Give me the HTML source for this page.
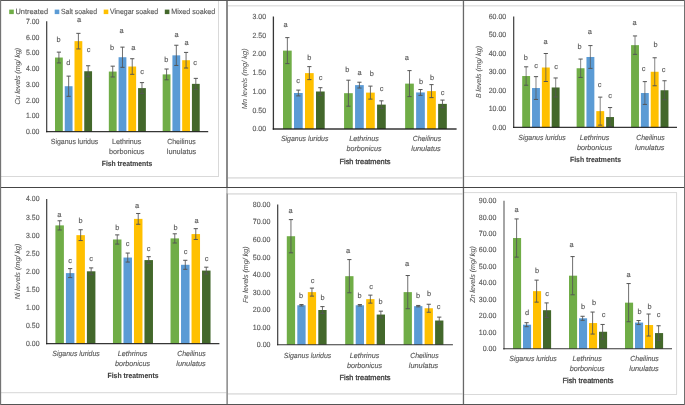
<!DOCTYPE html>
<html lang="en"><head><meta charset="utf-8"><title>Metal levels in fish treatments</title>
<style>html,body{margin:0;padding:0;background:#fff;overflow:hidden}svg{display:block}text{font-family:"Liberation Sans",sans-serif;text-rendering:geometricPrecision}</style>
</head><body>
<svg width="685" height="405" viewBox="0 0 685 405">
<rect x="0" y="0" width="685" height="405" fill="#ffffff"/>
<g id="frames" fill="none">
<line x1="218.50" y1="1.00" x2="218.50" y2="177.00" stroke="#D9D9D9" stroke-width="1.0"/>
<line x1="1.00" y1="176.50" x2="219.00" y2="176.50" stroke="#D9D9D9" stroke-width="1.0"/>
<line x1="228.00" y1="5.80" x2="462.50" y2="5.80" stroke="#e2e2e2" stroke-width="1.6"/>
<line x1="228.00" y1="177.90" x2="462.50" y2="177.90" stroke="#e2e2e2" stroke-width="1.6"/>
<line x1="464.00" y1="5.80" x2="684.00" y2="5.80" stroke="#e2e2e2" stroke-width="1.6"/>
<line x1="464.00" y1="176.50" x2="684.00" y2="176.50" stroke="#D9D9D9" stroke-width="1.0"/>
<line x1="1.00" y1="392.60" x2="226.50" y2="392.60" stroke="#dedede" stroke-width="1.3"/>
<line x1="228.00" y1="193.85" x2="462.50" y2="193.85" stroke="#e2e2e2" stroke-width="1.6"/>
<line x1="228.00" y1="393.90" x2="462.50" y2="393.90" stroke="#e2e2e2" stroke-width="1.6"/>
<line x1="464.00" y1="192.60" x2="677.00" y2="192.60" stroke="#D9D9D9" stroke-width="1.0"/>
<line x1="464.00" y1="394.50" x2="677.00" y2="394.50" stroke="#D9D9D9" stroke-width="1.0"/>
<line x1="676.60" y1="192.60" x2="676.60" y2="394.50" stroke="#D9D9D9" stroke-width="1.0"/>
</g>
<g id="grid">
<rect x="226.00" y="1.00" width="2.00" height="186.50" fill="#8a8a8a"/>
<rect x="226.00" y="188.00" width="2.00" height="6.00" fill="#c8c8c8"/>
<rect x="226.30" y="193.50" width="1.70" height="211.00" fill="#959595"/>
<rect x="462.80" y="0.00" width="1.30" height="405.00" fill="#686868"/>
<rect x="0.00" y="187.00" width="685.00" height="1.00" fill="#454545"/>
<rect x="0.00" y="0.00" width="685.00" height="1.00" fill="#595959"/>
<rect x="0.00" y="404.00" width="685.00" height="1.00" fill="#555555"/>
<rect x="0.00" y="0.00" width="1.15" height="405.00" fill="#747474"/>
<rect x="684.00" y="0.00" width="1.00" height="405.00" fill="#707070"/>
</g>
<g id="legend">
<rect x="9.20" y="9.60" width="4.60" height="4.50" fill="#70AD47"/>
<text x="15.50" y="14.20" font-size="7.5" text-anchor="start" fill="#595959" stroke="#595959" stroke-width="0.14" textLength="32.50" lengthAdjust="spacingAndGlyphs">Untreated</text>
<rect x="54.70" y="9.60" width="4.60" height="4.50" fill="#5B9BD5"/>
<text x="61.00" y="14.20" font-size="7.5" text-anchor="start" fill="#595959" stroke="#595959" stroke-width="0.14" textLength="36.00" lengthAdjust="spacingAndGlyphs">Salt soaked</text>
<rect x="103.70" y="9.60" width="4.60" height="4.50" fill="#FFC000"/>
<text x="110.00" y="14.20" font-size="7.5" text-anchor="start" fill="#595959" stroke="#595959" stroke-width="0.14" textLength="48.20" lengthAdjust="spacingAndGlyphs">Vinegar soaked</text>
<rect x="164.80" y="9.60" width="4.60" height="4.50" fill="#43682B"/>
<text x="171.20" y="14.20" font-size="7.5" text-anchor="start" fill="#595959" stroke="#595959" stroke-width="0.14" textLength="44.00" lengthAdjust="spacingAndGlyphs">Mixed soaked</text>
</g>
<g id="cu">
<rect x="55.00" y="57.54" width="7.80" height="74.06" fill="#70AD47"/>
<rect x="64.75" y="86.22" width="7.80" height="45.38" fill="#5B9BD5"/>
<rect x="74.50" y="41.15" width="7.80" height="90.45" fill="#FFC000"/>
<rect x="84.25" y="71.25" width="7.80" height="60.35" fill="#43682B"/>
<rect x="108.83" y="71.57" width="7.80" height="60.03" fill="#70AD47"/>
<rect x="118.58" y="57.23" width="7.80" height="74.37" fill="#5B9BD5"/>
<rect x="128.33" y="66.52" width="7.80" height="65.08" fill="#FFC000"/>
<rect x="138.08" y="88.11" width="7.80" height="43.49" fill="#43682B"/>
<rect x="162.67" y="74.40" width="7.80" height="57.20" fill="#70AD47"/>
<rect x="172.42" y="55.34" width="7.80" height="76.26" fill="#5B9BD5"/>
<rect x="182.17" y="60.22" width="7.80" height="71.38" fill="#FFC000"/>
<rect x="191.92" y="83.86" width="7.80" height="47.74" fill="#43682B"/>
<line x1="58.90" y1="52.14" x2="58.90" y2="62.94" stroke="#555555" stroke-width="0.85" stroke-opacity="1"/>
<line x1="56.80" y1="52.14" x2="61.00" y2="52.14" stroke="#555555" stroke-width="1.0"/>
<line x1="56.80" y1="62.94" x2="61.00" y2="62.94" stroke="#555555" stroke-width="1.0"/>
<line x1="68.65" y1="76.12" x2="68.65" y2="96.32" stroke="#555555" stroke-width="0.85" stroke-opacity="1"/>
<line x1="66.55" y1="76.12" x2="70.75" y2="76.12" stroke="#555555" stroke-width="1.0"/>
<line x1="66.55" y1="96.32" x2="70.75" y2="96.32" stroke="#555555" stroke-width="1.0"/>
<line x1="78.40" y1="33.35" x2="78.40" y2="48.95" stroke="#555555" stroke-width="0.85" stroke-opacity="1"/>
<line x1="76.30" y1="33.35" x2="80.50" y2="33.35" stroke="#555555" stroke-width="1.0"/>
<line x1="76.30" y1="48.95" x2="80.50" y2="48.95" stroke="#555555" stroke-width="1.0"/>
<line x1="88.15" y1="65.75" x2="88.15" y2="76.75" stroke="#555555" stroke-width="0.85" stroke-opacity="1"/>
<line x1="86.05" y1="65.75" x2="90.25" y2="65.75" stroke="#555555" stroke-width="1.0"/>
<line x1="86.05" y1="76.75" x2="90.25" y2="76.75" stroke="#555555" stroke-width="1.0"/>
<line x1="112.73" y1="66.17" x2="112.73" y2="76.97" stroke="#555555" stroke-width="0.85" stroke-opacity="1"/>
<line x1="110.63" y1="66.17" x2="114.83" y2="66.17" stroke="#555555" stroke-width="1.0"/>
<line x1="110.63" y1="76.97" x2="114.83" y2="76.97" stroke="#555555" stroke-width="1.0"/>
<line x1="122.48" y1="47.13" x2="122.48" y2="67.33" stroke="#555555" stroke-width="0.85" stroke-opacity="1"/>
<line x1="120.38" y1="47.13" x2="124.58" y2="47.13" stroke="#555555" stroke-width="1.0"/>
<line x1="120.38" y1="67.33" x2="124.58" y2="67.33" stroke="#555555" stroke-width="1.0"/>
<line x1="132.23" y1="58.72" x2="132.23" y2="74.32" stroke="#555555" stroke-width="0.85" stroke-opacity="1"/>
<line x1="130.13" y1="58.72" x2="134.33" y2="58.72" stroke="#555555" stroke-width="1.0"/>
<line x1="130.13" y1="74.32" x2="134.33" y2="74.32" stroke="#555555" stroke-width="1.0"/>
<line x1="141.98" y1="82.61" x2="141.98" y2="93.61" stroke="#555555" stroke-width="0.85" stroke-opacity="1"/>
<line x1="139.88" y1="82.61" x2="144.08" y2="82.61" stroke="#555555" stroke-width="1.0"/>
<line x1="139.88" y1="93.61" x2="144.08" y2="93.61" stroke="#555555" stroke-width="1.0"/>
<line x1="166.57" y1="69.00" x2="166.57" y2="79.80" stroke="#555555" stroke-width="0.85" stroke-opacity="1"/>
<line x1="164.47" y1="69.00" x2="168.67" y2="69.00" stroke="#555555" stroke-width="1.0"/>
<line x1="164.47" y1="79.80" x2="168.67" y2="79.80" stroke="#555555" stroke-width="1.0"/>
<line x1="176.32" y1="45.24" x2="176.32" y2="65.44" stroke="#555555" stroke-width="0.85" stroke-opacity="1"/>
<line x1="174.22" y1="45.24" x2="178.42" y2="45.24" stroke="#555555" stroke-width="1.0"/>
<line x1="174.22" y1="65.44" x2="178.42" y2="65.44" stroke="#555555" stroke-width="1.0"/>
<line x1="186.07" y1="52.42" x2="186.07" y2="68.02" stroke="#555555" stroke-width="0.85" stroke-opacity="1"/>
<line x1="183.97" y1="52.42" x2="188.17" y2="52.42" stroke="#555555" stroke-width="1.0"/>
<line x1="183.97" y1="68.02" x2="188.17" y2="68.02" stroke="#555555" stroke-width="1.0"/>
<line x1="195.82" y1="78.36" x2="195.82" y2="89.36" stroke="#555555" stroke-width="0.85" stroke-opacity="1"/>
<line x1="193.72" y1="78.36" x2="197.92" y2="78.36" stroke="#555555" stroke-width="1.0"/>
<line x1="193.72" y1="89.36" x2="197.92" y2="89.36" stroke="#555555" stroke-width="1.0"/>
<line x1="46.70" y1="21.30" x2="46.70" y2="132.17" stroke="#1a1a1a" stroke-width="1.15" stroke-opacity="0.88"/>
<line x1="46.12" y1="131.60" x2="208.20" y2="131.60" stroke="#1a1a1a" stroke-width="1.15" stroke-opacity="0.88"/>
<text x="39.40" y="134.05" font-size="7.5" text-anchor="end" fill="#595959" stroke="#595959" stroke-width="0.14" textLength="13.50" lengthAdjust="spacingAndGlyphs">0.00</text>
<text x="39.40" y="118.29" font-size="7.5" text-anchor="end" fill="#595959" stroke="#595959" stroke-width="0.14" textLength="13.50" lengthAdjust="spacingAndGlyphs">1.00</text>
<text x="39.40" y="102.54" font-size="7.5" text-anchor="end" fill="#595959" stroke="#595959" stroke-width="0.14" textLength="13.50" lengthAdjust="spacingAndGlyphs">2.00</text>
<text x="39.40" y="86.78" font-size="7.5" text-anchor="end" fill="#595959" stroke="#595959" stroke-width="0.14" textLength="13.50" lengthAdjust="spacingAndGlyphs">3.00</text>
<text x="39.40" y="71.02" font-size="7.5" text-anchor="end" fill="#595959" stroke="#595959" stroke-width="0.14" textLength="13.50" lengthAdjust="spacingAndGlyphs">4.00</text>
<text x="39.40" y="55.26" font-size="7.5" text-anchor="end" fill="#595959" stroke="#595959" stroke-width="0.14" textLength="13.50" lengthAdjust="spacingAndGlyphs">5.00</text>
<text x="39.40" y="39.51" font-size="7.5" text-anchor="end" fill="#595959" stroke="#595959" stroke-width="0.14" textLength="13.50" lengthAdjust="spacingAndGlyphs">6.00</text>
<text x="39.40" y="23.75" font-size="7.5" text-anchor="end" fill="#595959" stroke="#595959" stroke-width="0.14" textLength="13.50" lengthAdjust="spacingAndGlyphs">7.00</text>
<text x="20.00" y="76.20" font-size="7.3" text-anchor="middle" fill="#595959" stroke="#595959" stroke-width="0.05" font-style="italic" textLength="56.80" lengthAdjust="spacingAndGlyphs" transform="rotate(-90 20.00 76.20)">Cu levels (mg/ kg)</text>
<text x="58.50" y="41.60" font-size="7.4" text-anchor="middle" fill="#595959" stroke="#595959" stroke-width="0.14">b</text>
<text x="68.20" y="64.60" font-size="7.4" text-anchor="middle" fill="#595959" stroke="#595959" stroke-width="0.14">d</text>
<text x="79.00" y="21.60" font-size="7.4" text-anchor="middle" fill="#595959" stroke="#595959" stroke-width="0.14">a</text>
<text x="88.70" y="52.10" font-size="7.4" text-anchor="middle" fill="#595959" stroke="#595959" stroke-width="0.14">c</text>
<text x="112.00" y="49.60" font-size="7.4" text-anchor="middle" fill="#595959" stroke="#595959" stroke-width="0.14">b</text>
<text x="121.60" y="33.30" font-size="7.4" text-anchor="middle" fill="#595959" stroke="#595959" stroke-width="0.14">a</text>
<text x="133.20" y="49.60" font-size="7.4" text-anchor="middle" fill="#595959" stroke="#595959" stroke-width="0.14">a</text>
<text x="142.00" y="73.60" font-size="7.4" text-anchor="middle" fill="#595959" stroke="#595959" stroke-width="0.14">c</text>
<text x="166.20" y="62.10" font-size="7.4" text-anchor="middle" fill="#595959" stroke="#595959" stroke-width="0.14">b</text>
<text x="176.50" y="36.60" font-size="7.4" text-anchor="middle" fill="#595959" stroke="#595959" stroke-width="0.14">a</text>
<text x="186.50" y="44.80" font-size="7.4" text-anchor="middle" fill="#595959" stroke="#595959" stroke-width="0.14">a</text>
<text x="195.20" y="64.60" font-size="7.4" text-anchor="middle" fill="#595959" stroke="#595959" stroke-width="0.14">c</text>
<text x="74.50" y="143.60" font-size="7.4" text-anchor="middle" fill="#595959" stroke="#595959" stroke-width="0.14" textLength="47.50" lengthAdjust="spacingAndGlyphs">Siganus luridus</text>
<text x="126.70" y="143.60" font-size="7.4" text-anchor="middle" fill="#595959" stroke="#595959" stroke-width="0.14" textLength="29.50" lengthAdjust="spacingAndGlyphs">Lethrinus</text>
<text x="126.70" y="154.30" font-size="7.4" text-anchor="middle" fill="#595959" stroke="#595959" stroke-width="0.14" textLength="35.50" lengthAdjust="spacingAndGlyphs">borbonicus</text>
<text x="181.50" y="143.60" font-size="7.4" text-anchor="middle" fill="#595959" stroke="#595959" stroke-width="0.14" textLength="28.50" lengthAdjust="spacingAndGlyphs">Cheilinus</text>
<text x="181.50" y="154.30" font-size="7.4" text-anchor="middle" fill="#595959" stroke="#595959" stroke-width="0.14" textLength="29.50" lengthAdjust="spacingAndGlyphs">lunulatus</text>
<text x="127.00" y="166.30" font-size="7.4" text-anchor="middle" fill="#404040" stroke="#404040" stroke-width="0.1" font-weight="bold" textLength="50.50" lengthAdjust="spacingAndGlyphs">Fish treatments</text>
</g>
<g id="mn">
<rect x="283.00" y="50.62" width="8.70" height="78.38" fill="#70AD47"/>
<rect x="294.00" y="93.00" width="8.70" height="36.00" fill="#5B9BD5"/>
<rect x="305.00" y="73.12" width="8.70" height="55.88" fill="#FFC000"/>
<rect x="316.00" y="91.50" width="8.70" height="37.50" fill="#43682B"/>
<rect x="344.07" y="93.19" width="8.70" height="35.81" fill="#70AD47"/>
<rect x="355.07" y="85.12" width="8.70" height="43.88" fill="#5B9BD5"/>
<rect x="366.07" y="92.62" width="8.70" height="36.38" fill="#FFC000"/>
<rect x="377.07" y="104.62" width="8.70" height="24.38" fill="#43682B"/>
<rect x="405.13" y="83.62" width="8.70" height="45.38" fill="#70AD47"/>
<rect x="416.13" y="92.44" width="8.70" height="36.56" fill="#5B9BD5"/>
<rect x="427.13" y="91.12" width="8.70" height="37.88" fill="#FFC000"/>
<rect x="438.13" y="103.88" width="8.70" height="25.12" fill="#43682B"/>
<line x1="287.35" y1="37.62" x2="287.35" y2="63.62" stroke="#555555" stroke-width="0.85" stroke-opacity="1"/>
<line x1="285.25" y1="37.62" x2="289.45" y2="37.62" stroke="#555555" stroke-width="1.0"/>
<line x1="285.25" y1="63.62" x2="289.45" y2="63.62" stroke="#555555" stroke-width="1.0"/>
<line x1="298.35" y1="90.10" x2="298.35" y2="95.90" stroke="#555555" stroke-width="0.85" stroke-opacity="1"/>
<line x1="296.25" y1="90.10" x2="300.45" y2="90.10" stroke="#555555" stroke-width="1.0"/>
<line x1="296.25" y1="95.90" x2="300.45" y2="95.90" stroke="#555555" stroke-width="1.0"/>
<line x1="309.35" y1="66.62" x2="309.35" y2="79.62" stroke="#555555" stroke-width="0.85" stroke-opacity="1"/>
<line x1="307.25" y1="66.62" x2="311.45" y2="66.62" stroke="#555555" stroke-width="1.0"/>
<line x1="307.25" y1="79.62" x2="311.45" y2="79.62" stroke="#555555" stroke-width="1.0"/>
<line x1="320.35" y1="87.70" x2="320.35" y2="95.30" stroke="#555555" stroke-width="0.85" stroke-opacity="1"/>
<line x1="318.25" y1="87.70" x2="322.45" y2="87.70" stroke="#555555" stroke-width="1.0"/>
<line x1="318.25" y1="95.30" x2="322.45" y2="95.30" stroke="#555555" stroke-width="1.0"/>
<line x1="348.42" y1="80.19" x2="348.42" y2="106.19" stroke="#555555" stroke-width="0.85" stroke-opacity="1"/>
<line x1="346.32" y1="80.19" x2="350.52" y2="80.19" stroke="#555555" stroke-width="1.0"/>
<line x1="346.32" y1="106.19" x2="350.52" y2="106.19" stroke="#555555" stroke-width="1.0"/>
<line x1="359.42" y1="82.22" x2="359.42" y2="88.03" stroke="#555555" stroke-width="0.85" stroke-opacity="1"/>
<line x1="357.32" y1="82.22" x2="361.52" y2="82.22" stroke="#555555" stroke-width="1.0"/>
<line x1="357.32" y1="88.03" x2="361.52" y2="88.03" stroke="#555555" stroke-width="1.0"/>
<line x1="370.42" y1="86.12" x2="370.42" y2="99.12" stroke="#555555" stroke-width="0.85" stroke-opacity="1"/>
<line x1="368.32" y1="86.12" x2="372.52" y2="86.12" stroke="#555555" stroke-width="1.0"/>
<line x1="368.32" y1="99.12" x2="372.52" y2="99.12" stroke="#555555" stroke-width="1.0"/>
<line x1="381.42" y1="100.83" x2="381.42" y2="108.42" stroke="#555555" stroke-width="0.85" stroke-opacity="1"/>
<line x1="379.32" y1="100.83" x2="383.52" y2="100.83" stroke="#555555" stroke-width="1.0"/>
<line x1="379.32" y1="108.42" x2="383.52" y2="108.42" stroke="#555555" stroke-width="1.0"/>
<line x1="409.48" y1="70.62" x2="409.48" y2="96.62" stroke="#555555" stroke-width="0.85" stroke-opacity="1"/>
<line x1="407.38" y1="70.62" x2="411.58" y2="70.62" stroke="#555555" stroke-width="1.0"/>
<line x1="407.38" y1="96.62" x2="411.58" y2="96.62" stroke="#555555" stroke-width="1.0"/>
<line x1="420.48" y1="89.54" x2="420.48" y2="95.34" stroke="#555555" stroke-width="0.85" stroke-opacity="1"/>
<line x1="418.38" y1="89.54" x2="422.58" y2="89.54" stroke="#555555" stroke-width="1.0"/>
<line x1="418.38" y1="95.34" x2="422.58" y2="95.34" stroke="#555555" stroke-width="1.0"/>
<line x1="431.48" y1="84.62" x2="431.48" y2="97.62" stroke="#555555" stroke-width="0.85" stroke-opacity="1"/>
<line x1="429.38" y1="84.62" x2="433.58" y2="84.62" stroke="#555555" stroke-width="1.0"/>
<line x1="429.38" y1="97.62" x2="433.58" y2="97.62" stroke="#555555" stroke-width="1.0"/>
<line x1="442.48" y1="100.08" x2="442.48" y2="107.67" stroke="#555555" stroke-width="0.85" stroke-opacity="1"/>
<line x1="440.38" y1="100.08" x2="444.58" y2="100.08" stroke="#555555" stroke-width="1.0"/>
<line x1="440.38" y1="107.67" x2="444.58" y2="107.67" stroke="#555555" stroke-width="1.0"/>
<line x1="273.40" y1="16.50" x2="273.40" y2="129.65" stroke="#1a1a1a" stroke-width="1.3" stroke-opacity="0.88"/>
<line x1="272.75" y1="129.00" x2="456.60" y2="129.00" stroke="#1a1a1a" stroke-width="1.3" stroke-opacity="0.88"/>
<text x="266.00" y="131.45" font-size="7.5" text-anchor="end" fill="#595959" stroke="#595959" stroke-width="0.14" textLength="13.50" lengthAdjust="spacingAndGlyphs">0.00</text>
<text x="266.00" y="112.70" font-size="7.5" text-anchor="end" fill="#595959" stroke="#595959" stroke-width="0.14" textLength="13.50" lengthAdjust="spacingAndGlyphs">0.50</text>
<text x="266.00" y="93.95" font-size="7.5" text-anchor="end" fill="#595959" stroke="#595959" stroke-width="0.14" textLength="13.50" lengthAdjust="spacingAndGlyphs">1.00</text>
<text x="266.00" y="75.20" font-size="7.5" text-anchor="end" fill="#595959" stroke="#595959" stroke-width="0.14" textLength="13.50" lengthAdjust="spacingAndGlyphs">1.50</text>
<text x="266.00" y="56.45" font-size="7.5" text-anchor="end" fill="#595959" stroke="#595959" stroke-width="0.14" textLength="13.50" lengthAdjust="spacingAndGlyphs">2.00</text>
<text x="266.00" y="37.70" font-size="7.5" text-anchor="end" fill="#595959" stroke="#595959" stroke-width="0.14" textLength="13.50" lengthAdjust="spacingAndGlyphs">2.50</text>
<text x="266.00" y="18.95" font-size="7.5" text-anchor="end" fill="#595959" stroke="#595959" stroke-width="0.14" textLength="13.50" lengthAdjust="spacingAndGlyphs">3.00</text>
<text x="247.00" y="78.75" font-size="7.3" text-anchor="middle" fill="#595959" stroke="#595959" stroke-width="0.05" font-style="italic" textLength="61.00" lengthAdjust="spacingAndGlyphs" transform="rotate(-90 247.00 78.75)">Mn levels (mg/ kg)</text>
<text x="285.50" y="27.30" font-size="7.4" text-anchor="middle" fill="#595959" stroke="#595959" stroke-width="0.14">a</text>
<text x="298.20" y="82.60" font-size="7.4" text-anchor="middle" fill="#595959" stroke="#595959" stroke-width="0.14">c</text>
<text x="309.20" y="59.80" font-size="7.4" text-anchor="middle" fill="#595959" stroke="#595959" stroke-width="0.14">b</text>
<text x="320.50" y="80.30" font-size="7.4" text-anchor="middle" fill="#595959" stroke="#595959" stroke-width="0.14">c</text>
<text x="347.20" y="72.30" font-size="7.4" text-anchor="middle" fill="#595959" stroke="#595959" stroke-width="0.14">b</text>
<text x="359.50" y="74.60" font-size="7.4" text-anchor="middle" fill="#595959" stroke="#595959" stroke-width="0.14">a</text>
<text x="371.70" y="75.80" font-size="7.4" text-anchor="middle" fill="#595959" stroke="#595959" stroke-width="0.14">b</text>
<text x="381.50" y="90.80" font-size="7.4" text-anchor="middle" fill="#595959" stroke="#595959" stroke-width="0.14">c</text>
<text x="406.70" y="60.30" font-size="7.4" text-anchor="middle" fill="#595959" stroke="#595959" stroke-width="0.14">a</text>
<text x="421.00" y="83.80" font-size="7.4" text-anchor="middle" fill="#595959" stroke="#595959" stroke-width="0.14">b</text>
<text x="432.00" y="79.60" font-size="7.4" text-anchor="middle" fill="#595959" stroke="#595959" stroke-width="0.14">b</text>
<text x="442.50" y="95.10" font-size="7.4" text-anchor="middle" fill="#595959" stroke="#595959" stroke-width="0.14">c</text>
<text x="304.70" y="141.20" font-size="7.4" text-anchor="middle" fill="#595959" stroke="#595959" stroke-width="0.14" font-style="italic" textLength="47.50" lengthAdjust="spacingAndGlyphs">Siganus luridus</text>
<text x="364.00" y="141.20" font-size="7.4" text-anchor="middle" fill="#595959" stroke="#595959" stroke-width="0.14" font-style="italic" textLength="29.50" lengthAdjust="spacingAndGlyphs">Lethrinus</text>
<text x="364.00" y="151.30" font-size="7.4" text-anchor="middle" fill="#595959" stroke="#595959" stroke-width="0.14" font-style="italic" textLength="35.00" lengthAdjust="spacingAndGlyphs">borbonicus</text>
<text x="426.90" y="141.20" font-size="7.4" text-anchor="middle" fill="#595959" stroke="#595959" stroke-width="0.14" font-style="italic" textLength="28.50" lengthAdjust="spacingAndGlyphs">Cheilinus</text>
<text x="426.00" y="151.30" font-size="7.4" text-anchor="middle" fill="#595959" stroke="#595959" stroke-width="0.14" font-style="italic" textLength="29.50" lengthAdjust="spacingAndGlyphs">lunulatus</text>
<text x="365.00" y="163.50" font-size="7.4" text-anchor="middle" fill="#404040" stroke="#404040" stroke-width="0.32" textLength="51.00" lengthAdjust="spacingAndGlyphs">Fish treatments</text>
</g>
<g id="b">
<rect x="522.20" y="76.02" width="7.90" height="51.38" fill="#70AD47"/>
<rect x="532.03" y="88.03" width="7.90" height="39.37" fill="#5B9BD5"/>
<rect x="541.86" y="67.51" width="7.90" height="59.89" fill="#FFC000"/>
<rect x="551.69" y="87.48" width="7.90" height="39.92" fill="#43682B"/>
<rect x="576.63" y="68.25" width="7.90" height="59.15" fill="#70AD47"/>
<rect x="586.46" y="56.98" width="7.90" height="70.42" fill="#5B9BD5"/>
<rect x="596.29" y="111.13" width="7.90" height="16.27" fill="#FFC000"/>
<rect x="606.12" y="117.05" width="7.90" height="10.35" fill="#43682B"/>
<rect x="631.07" y="45.15" width="7.90" height="82.25" fill="#70AD47"/>
<rect x="640.90" y="93.02" width="7.90" height="34.38" fill="#5B9BD5"/>
<rect x="650.73" y="71.77" width="7.90" height="55.63" fill="#FFC000"/>
<rect x="660.56" y="90.25" width="7.90" height="37.15" fill="#43682B"/>
<line x1="526.15" y1="66.82" x2="526.15" y2="85.22" stroke="#555555" stroke-width="1.2" stroke-opacity="0.6"/>
<line x1="524.05" y1="66.82" x2="528.25" y2="66.82" stroke="#555555" stroke-width="1.0"/>
<line x1="524.05" y1="85.22" x2="528.25" y2="85.22" stroke="#555555" stroke-width="1.0"/>
<line x1="535.98" y1="76.63" x2="535.98" y2="99.43" stroke="#555555" stroke-width="1.2" stroke-opacity="0.6"/>
<line x1="533.88" y1="76.63" x2="538.08" y2="76.63" stroke="#555555" stroke-width="1.0"/>
<line x1="533.88" y1="99.43" x2="538.08" y2="99.43" stroke="#555555" stroke-width="1.0"/>
<line x1="545.81" y1="53.51" x2="545.81" y2="81.51" stroke="#555555" stroke-width="1.2" stroke-opacity="0.6"/>
<line x1="543.71" y1="53.51" x2="547.91" y2="53.51" stroke="#555555" stroke-width="1.0"/>
<line x1="543.71" y1="81.51" x2="547.91" y2="81.51" stroke="#555555" stroke-width="1.0"/>
<line x1="555.64" y1="77.98" x2="555.64" y2="96.98" stroke="#555555" stroke-width="1.2" stroke-opacity="0.6"/>
<line x1="553.54" y1="77.98" x2="557.74" y2="77.98" stroke="#555555" stroke-width="1.0"/>
<line x1="553.54" y1="96.98" x2="557.74" y2="96.98" stroke="#555555" stroke-width="1.0"/>
<line x1="580.58" y1="59.05" x2="580.58" y2="77.45" stroke="#555555" stroke-width="1.2" stroke-opacity="0.6"/>
<line x1="578.48" y1="59.05" x2="582.68" y2="59.05" stroke="#555555" stroke-width="1.0"/>
<line x1="578.48" y1="77.45" x2="582.68" y2="77.45" stroke="#555555" stroke-width="1.0"/>
<line x1="590.41" y1="45.58" x2="590.41" y2="68.38" stroke="#555555" stroke-width="1.2" stroke-opacity="0.6"/>
<line x1="588.31" y1="45.58" x2="592.51" y2="45.58" stroke="#555555" stroke-width="1.0"/>
<line x1="588.31" y1="68.38" x2="592.51" y2="68.38" stroke="#555555" stroke-width="1.0"/>
<line x1="600.24" y1="97.13" x2="600.24" y2="125.13" stroke="#555555" stroke-width="1.2" stroke-opacity="0.6"/>
<line x1="598.14" y1="97.13" x2="602.34" y2="97.13" stroke="#555555" stroke-width="1.0"/>
<line x1="598.14" y1="125.13" x2="602.34" y2="125.13" stroke="#555555" stroke-width="1.0"/>
<line x1="610.07" y1="107.55" x2="610.07" y2="126.55" stroke="#555555" stroke-width="1.2" stroke-opacity="0.6"/>
<line x1="607.97" y1="107.55" x2="612.17" y2="107.55" stroke="#555555" stroke-width="1.0"/>
<line x1="607.97" y1="126.55" x2="612.17" y2="126.55" stroke="#555555" stroke-width="1.0"/>
<line x1="635.02" y1="35.95" x2="635.02" y2="54.35" stroke="#555555" stroke-width="1.2" stroke-opacity="0.6"/>
<line x1="632.92" y1="35.95" x2="637.12" y2="35.95" stroke="#555555" stroke-width="1.0"/>
<line x1="632.92" y1="54.35" x2="637.12" y2="54.35" stroke="#555555" stroke-width="1.0"/>
<line x1="644.85" y1="81.62" x2="644.85" y2="104.42" stroke="#555555" stroke-width="1.2" stroke-opacity="0.6"/>
<line x1="642.75" y1="81.62" x2="646.95" y2="81.62" stroke="#555555" stroke-width="1.0"/>
<line x1="642.75" y1="104.42" x2="646.95" y2="104.42" stroke="#555555" stroke-width="1.0"/>
<line x1="654.68" y1="57.77" x2="654.68" y2="85.77" stroke="#555555" stroke-width="1.2" stroke-opacity="0.6"/>
<line x1="652.58" y1="57.77" x2="656.78" y2="57.77" stroke="#555555" stroke-width="1.0"/>
<line x1="652.58" y1="85.77" x2="656.78" y2="85.77" stroke="#555555" stroke-width="1.0"/>
<line x1="664.51" y1="80.75" x2="664.51" y2="99.75" stroke="#555555" stroke-width="1.2" stroke-opacity="0.6"/>
<line x1="662.41" y1="80.75" x2="666.61" y2="80.75" stroke="#555555" stroke-width="1.0"/>
<line x1="662.41" y1="99.75" x2="666.61" y2="99.75" stroke="#555555" stroke-width="1.0"/>
<line x1="513.70" y1="16.50" x2="513.70" y2="127.98" stroke="#1a1a1a" stroke-width="1.15" stroke-opacity="0.88"/>
<line x1="513.12" y1="127.40" x2="677.00" y2="127.40" stroke="#1a1a1a" stroke-width="1.15" stroke-opacity="0.88"/>
<text x="506.20" y="129.85" font-size="7.5" text-anchor="end" fill="#595959" stroke="#595959" stroke-width="0.14" textLength="13.60" lengthAdjust="spacingAndGlyphs">0.00</text>
<text x="506.20" y="111.37" font-size="7.5" text-anchor="end" fill="#595959" stroke="#595959" stroke-width="0.14" textLength="17.50" lengthAdjust="spacingAndGlyphs">10.00</text>
<text x="506.20" y="92.88" font-size="7.5" text-anchor="end" fill="#595959" stroke="#595959" stroke-width="0.14" textLength="17.50" lengthAdjust="spacingAndGlyphs">20.00</text>
<text x="506.20" y="74.40" font-size="7.5" text-anchor="end" fill="#595959" stroke="#595959" stroke-width="0.14" textLength="17.50" lengthAdjust="spacingAndGlyphs">30.00</text>
<text x="506.20" y="55.92" font-size="7.5" text-anchor="end" fill="#595959" stroke="#595959" stroke-width="0.14" textLength="17.50" lengthAdjust="spacingAndGlyphs">40.00</text>
<text x="506.20" y="37.43" font-size="7.5" text-anchor="end" fill="#595959" stroke="#595959" stroke-width="0.14" textLength="17.50" lengthAdjust="spacingAndGlyphs">50.00</text>
<text x="506.20" y="18.95" font-size="7.5" text-anchor="end" fill="#595959" stroke="#595959" stroke-width="0.14" textLength="17.50" lengthAdjust="spacingAndGlyphs">60.00</text>
<text x="481.00" y="72.00" font-size="7.3" text-anchor="middle" fill="#595959" stroke="#595959" stroke-width="0.05" font-style="italic" textLength="52.00" lengthAdjust="spacingAndGlyphs" transform="rotate(-90 481.00 72.00)">B levels (mg/ kg)</text>
<text x="525.70" y="60.30" font-size="7.4" text-anchor="middle" fill="#595959" stroke="#595959" stroke-width="0.14">b</text>
<text x="536.00" y="67.60" font-size="7.4" text-anchor="middle" fill="#595959" stroke="#595959" stroke-width="0.14">c</text>
<text x="545.50" y="43.80" font-size="7.4" text-anchor="middle" fill="#595959" stroke="#595959" stroke-width="0.14">a</text>
<text x="556.20" y="69.10" font-size="7.4" text-anchor="middle" fill="#595959" stroke="#595959" stroke-width="0.14">c</text>
<text x="579.50" y="49.30" font-size="7.4" text-anchor="middle" fill="#595959" stroke="#595959" stroke-width="0.14">b</text>
<text x="589.70" y="33.80" font-size="7.4" text-anchor="middle" fill="#595959" stroke="#595959" stroke-width="0.14">a</text>
<text x="599.70" y="87.10" font-size="7.4" text-anchor="middle" fill="#595959" stroke="#595959" stroke-width="0.14">c</text>
<text x="610.20" y="98.30" font-size="7.4" text-anchor="middle" fill="#595959" stroke="#595959" stroke-width="0.14">c</text>
<text x="634.50" y="24.80" font-size="7.4" text-anchor="middle" fill="#595959" stroke="#595959" stroke-width="0.14">a</text>
<text x="643.50" y="71.30" font-size="7.4" text-anchor="middle" fill="#595959" stroke="#595959" stroke-width="0.14">c</text>
<text x="655.50" y="47.10" font-size="7.4" text-anchor="middle" fill="#595959" stroke="#595959" stroke-width="0.14">b</text>
<text x="663.50" y="71.60" font-size="7.4" text-anchor="middle" fill="#595959" stroke="#595959" stroke-width="0.14">c</text>
<text x="542.00" y="140.10" font-size="7.4" text-anchor="middle" fill="#595959" stroke="#595959" stroke-width="0.14" font-style="italic" textLength="47.50" lengthAdjust="spacingAndGlyphs">Siganus luridus</text>
<text x="594.50" y="140.10" font-size="7.4" text-anchor="middle" fill="#595959" stroke="#595959" stroke-width="0.14" font-style="italic" textLength="29.50" lengthAdjust="spacingAndGlyphs">Lethrinus</text>
<text x="594.50" y="149.80" font-size="7.4" text-anchor="middle" fill="#595959" stroke="#595959" stroke-width="0.14" font-style="italic" textLength="35.00" lengthAdjust="spacingAndGlyphs">borbonicus</text>
<text x="650.50" y="140.10" font-size="7.4" text-anchor="middle" fill="#595959" stroke="#595959" stroke-width="0.14" font-style="italic" textLength="28.50" lengthAdjust="spacingAndGlyphs">Cheilinus</text>
<text x="649.80" y="149.80" font-size="7.4" text-anchor="middle" fill="#595959" stroke="#595959" stroke-width="0.14" font-style="italic" textLength="29.50" lengthAdjust="spacingAndGlyphs">lunulatus</text>
<text x="595.50" y="162.00" font-size="7.4" text-anchor="middle" fill="#404040" stroke="#404040" stroke-width="0.1" font-weight="bold" textLength="51.00" lengthAdjust="spacingAndGlyphs">Fish treatments</text>
</g>
<g id="ni">
<rect x="55.40" y="225.39" width="8.50" height="118.21" fill="#70AD47"/>
<rect x="65.90" y="273.11" width="8.50" height="70.49" fill="#5B9BD5"/>
<rect x="76.40" y="235.15" width="8.50" height="108.45" fill="#FFC000"/>
<rect x="86.90" y="271.30" width="8.50" height="72.30" fill="#43682B"/>
<rect x="112.97" y="239.49" width="8.50" height="104.11" fill="#70AD47"/>
<rect x="123.47" y="257.56" width="8.50" height="86.04" fill="#5B9BD5"/>
<rect x="133.97" y="218.88" width="8.50" height="124.72" fill="#FFC000"/>
<rect x="144.47" y="260.09" width="8.50" height="83.51" fill="#43682B"/>
<rect x="170.53" y="238.40" width="8.50" height="105.20" fill="#70AD47"/>
<rect x="181.03" y="264.79" width="8.50" height="78.81" fill="#5B9BD5"/>
<rect x="191.53" y="234.07" width="8.50" height="109.53" fill="#FFC000"/>
<rect x="202.03" y="270.58" width="8.50" height="73.02" fill="#43682B"/>
<line x1="59.65" y1="220.79" x2="59.65" y2="229.99" stroke="#555555" stroke-width="0.85" stroke-opacity="1"/>
<line x1="57.55" y1="220.79" x2="61.75" y2="220.79" stroke="#555555" stroke-width="1.0"/>
<line x1="57.55" y1="229.99" x2="61.75" y2="229.99" stroke="#555555" stroke-width="1.0"/>
<line x1="70.15" y1="268.61" x2="70.15" y2="277.61" stroke="#555555" stroke-width="0.85" stroke-opacity="1"/>
<line x1="68.05" y1="268.61" x2="72.25" y2="268.61" stroke="#555555" stroke-width="1.0"/>
<line x1="68.05" y1="277.61" x2="72.25" y2="277.61" stroke="#555555" stroke-width="1.0"/>
<line x1="80.65" y1="229.75" x2="80.65" y2="240.55" stroke="#555555" stroke-width="0.85" stroke-opacity="1"/>
<line x1="78.55" y1="229.75" x2="82.75" y2="229.75" stroke="#555555" stroke-width="1.0"/>
<line x1="78.55" y1="240.55" x2="82.75" y2="240.55" stroke="#555555" stroke-width="1.0"/>
<line x1="91.15" y1="267.90" x2="91.15" y2="274.70" stroke="#555555" stroke-width="0.85" stroke-opacity="1"/>
<line x1="89.05" y1="267.90" x2="93.25" y2="267.90" stroke="#555555" stroke-width="1.0"/>
<line x1="89.05" y1="274.70" x2="93.25" y2="274.70" stroke="#555555" stroke-width="1.0"/>
<line x1="117.22" y1="234.89" x2="117.22" y2="244.09" stroke="#555555" stroke-width="0.85" stroke-opacity="1"/>
<line x1="115.12" y1="234.89" x2="119.32" y2="234.89" stroke="#555555" stroke-width="1.0"/>
<line x1="115.12" y1="244.09" x2="119.32" y2="244.09" stroke="#555555" stroke-width="1.0"/>
<line x1="127.72" y1="253.06" x2="127.72" y2="262.06" stroke="#555555" stroke-width="0.85" stroke-opacity="1"/>
<line x1="125.62" y1="253.06" x2="129.82" y2="253.06" stroke="#555555" stroke-width="1.0"/>
<line x1="125.62" y1="262.06" x2="129.82" y2="262.06" stroke="#555555" stroke-width="1.0"/>
<line x1="138.22" y1="213.48" x2="138.22" y2="224.28" stroke="#555555" stroke-width="0.85" stroke-opacity="1"/>
<line x1="136.12" y1="213.48" x2="140.32" y2="213.48" stroke="#555555" stroke-width="1.0"/>
<line x1="136.12" y1="224.28" x2="140.32" y2="224.28" stroke="#555555" stroke-width="1.0"/>
<line x1="148.72" y1="256.69" x2="148.72" y2="263.49" stroke="#555555" stroke-width="0.85" stroke-opacity="1"/>
<line x1="146.62" y1="256.69" x2="150.82" y2="256.69" stroke="#555555" stroke-width="1.0"/>
<line x1="146.62" y1="263.49" x2="150.82" y2="263.49" stroke="#555555" stroke-width="1.0"/>
<line x1="174.78" y1="233.80" x2="174.78" y2="243.00" stroke="#555555" stroke-width="0.85" stroke-opacity="1"/>
<line x1="172.68" y1="233.80" x2="176.88" y2="233.80" stroke="#555555" stroke-width="1.0"/>
<line x1="172.68" y1="243.00" x2="176.88" y2="243.00" stroke="#555555" stroke-width="1.0"/>
<line x1="185.28" y1="260.29" x2="185.28" y2="269.29" stroke="#555555" stroke-width="0.85" stroke-opacity="1"/>
<line x1="183.18" y1="260.29" x2="187.38" y2="260.29" stroke="#555555" stroke-width="1.0"/>
<line x1="183.18" y1="269.29" x2="187.38" y2="269.29" stroke="#555555" stroke-width="1.0"/>
<line x1="195.78" y1="228.67" x2="195.78" y2="239.47" stroke="#555555" stroke-width="0.85" stroke-opacity="1"/>
<line x1="193.68" y1="228.67" x2="197.88" y2="228.67" stroke="#555555" stroke-width="1.0"/>
<line x1="193.68" y1="239.47" x2="197.88" y2="239.47" stroke="#555555" stroke-width="1.0"/>
<line x1="206.28" y1="267.18" x2="206.28" y2="273.98" stroke="#555555" stroke-width="0.85" stroke-opacity="1"/>
<line x1="204.18" y1="267.18" x2="208.38" y2="267.18" stroke="#555555" stroke-width="1.0"/>
<line x1="204.18" y1="273.98" x2="208.38" y2="273.98" stroke="#555555" stroke-width="1.0"/>
<line x1="46.70" y1="199.00" x2="46.70" y2="344.18" stroke="#1a1a1a" stroke-width="1.15" stroke-opacity="0.88"/>
<line x1="46.12" y1="343.60" x2="219.40" y2="343.60" stroke="#1a1a1a" stroke-width="1.15" stroke-opacity="0.88"/>
<text x="39.50" y="346.05" font-size="7.5" text-anchor="end" fill="#595959" stroke="#595959" stroke-width="0.14" textLength="13.50" lengthAdjust="spacingAndGlyphs">0.00</text>
<text x="39.50" y="327.98" font-size="7.5" text-anchor="end" fill="#595959" stroke="#595959" stroke-width="0.14" textLength="13.50" lengthAdjust="spacingAndGlyphs">0.50</text>
<text x="39.50" y="309.90" font-size="7.5" text-anchor="end" fill="#595959" stroke="#595959" stroke-width="0.14" textLength="13.50" lengthAdjust="spacingAndGlyphs">1.00</text>
<text x="39.50" y="291.82" font-size="7.5" text-anchor="end" fill="#595959" stroke="#595959" stroke-width="0.14" textLength="13.50" lengthAdjust="spacingAndGlyphs">1.50</text>
<text x="39.50" y="273.75" font-size="7.5" text-anchor="end" fill="#595959" stroke="#595959" stroke-width="0.14" textLength="13.50" lengthAdjust="spacingAndGlyphs">2.00</text>
<text x="39.50" y="255.68" font-size="7.5" text-anchor="end" fill="#595959" stroke="#595959" stroke-width="0.14" textLength="13.50" lengthAdjust="spacingAndGlyphs">2.50</text>
<text x="39.50" y="237.60" font-size="7.5" text-anchor="end" fill="#595959" stroke="#595959" stroke-width="0.14" textLength="13.50" lengthAdjust="spacingAndGlyphs">3.00</text>
<text x="39.50" y="219.52" font-size="7.5" text-anchor="end" fill="#595959" stroke="#595959" stroke-width="0.14" textLength="13.50" lengthAdjust="spacingAndGlyphs">3.50</text>
<text x="39.50" y="201.45" font-size="7.5" text-anchor="end" fill="#595959" stroke="#595959" stroke-width="0.14" textLength="13.50" lengthAdjust="spacingAndGlyphs">4.00</text>
<text x="19.80" y="271.50" font-size="7.3" text-anchor="middle" fill="#595959" stroke="#595959" stroke-width="0.05" font-style="italic" textLength="56.00" lengthAdjust="spacingAndGlyphs" transform="rotate(-90 19.80 271.50)">Ni levels (mg/ kg)</text>
<text x="59.20" y="217.10" font-size="7.4" text-anchor="middle" fill="#595959" stroke="#595959" stroke-width="0.14">a</text>
<text x="70.20" y="263.30" font-size="7.4" text-anchor="middle" fill="#595959" stroke="#595959" stroke-width="0.14">c</text>
<text x="80.50" y="223.30" font-size="7.4" text-anchor="middle" fill="#595959" stroke="#595959" stroke-width="0.14">b</text>
<text x="91.20" y="260.80" font-size="7.4" text-anchor="middle" fill="#595959" stroke="#595959" stroke-width="0.14">c</text>
<text x="117.20" y="229.80" font-size="7.4" text-anchor="middle" fill="#595959" stroke="#595959" stroke-width="0.14">b</text>
<text x="127.70" y="246.30" font-size="7.4" text-anchor="middle" fill="#595959" stroke="#595959" stroke-width="0.14">c</text>
<text x="137.00" y="207.80" font-size="7.4" text-anchor="middle" fill="#595959" stroke="#595959" stroke-width="0.14">a</text>
<text x="148.50" y="251.30" font-size="7.4" text-anchor="middle" fill="#595959" stroke="#595959" stroke-width="0.14">c</text>
<text x="175.50" y="230.30" font-size="7.4" text-anchor="middle" fill="#595959" stroke="#595959" stroke-width="0.14">b</text>
<text x="185.70" y="254.30" font-size="7.4" text-anchor="middle" fill="#595959" stroke="#595959" stroke-width="0.14">c</text>
<text x="196.50" y="223.30" font-size="7.4" text-anchor="middle" fill="#595959" stroke="#595959" stroke-width="0.14">a</text>
<text x="206.50" y="260.80" font-size="7.4" text-anchor="middle" fill="#595959" stroke="#595959" stroke-width="0.14">c</text>
<text x="76.00" y="355.60" font-size="7.4" text-anchor="middle" fill="#595959" stroke="#595959" stroke-width="0.14" font-style="italic" textLength="47.50" lengthAdjust="spacingAndGlyphs">Siganus luridus</text>
<text x="132.50" y="355.60" font-size="7.4" text-anchor="middle" fill="#595959" stroke="#595959" stroke-width="0.14" font-style="italic" textLength="29.50" lengthAdjust="spacingAndGlyphs">Lethrinus</text>
<text x="132.50" y="366.30" font-size="7.4" text-anchor="middle" fill="#595959" stroke="#595959" stroke-width="0.14" font-style="italic" textLength="35.00" lengthAdjust="spacingAndGlyphs">borbonicus</text>
<text x="191.50" y="355.60" font-size="7.4" text-anchor="middle" fill="#595959" stroke="#595959" stroke-width="0.14" font-style="italic" textLength="28.50" lengthAdjust="spacingAndGlyphs">Cheilinus</text>
<text x="191.00" y="366.30" font-size="7.4" text-anchor="middle" fill="#595959" stroke="#595959" stroke-width="0.14" font-style="italic" textLength="29.50" lengthAdjust="spacingAndGlyphs">lunulatus</text>
<text x="133.00" y="377.80" font-size="7.4" text-anchor="middle" fill="#404040" stroke="#404040" stroke-width="0.1" font-weight="bold" textLength="51.00" lengthAdjust="spacingAndGlyphs">Fish treatments</text>
</g>
<g id="fe">
<rect x="286.80" y="236.22" width="8.30" height="108.48" fill="#70AD47"/>
<rect x="297.30" y="305.27" width="8.30" height="39.43" fill="#5B9BD5"/>
<rect x="307.80" y="292.12" width="8.30" height="52.57" fill="#FFC000"/>
<rect x="318.30" y="310.00" width="8.30" height="34.70" fill="#43682B"/>
<rect x="345.20" y="276.18" width="8.30" height="68.52" fill="#70AD47"/>
<rect x="355.70" y="305.27" width="8.30" height="39.43" fill="#5B9BD5"/>
<rect x="366.20" y="299.13" width="8.30" height="45.56" fill="#FFC000"/>
<rect x="376.70" y="314.56" width="8.30" height="30.14" fill="#43682B"/>
<rect x="403.60" y="292.12" width="8.30" height="52.57" fill="#70AD47"/>
<rect x="414.10" y="306.14" width="8.30" height="38.56" fill="#5B9BD5"/>
<rect x="424.60" y="308.25" width="8.30" height="36.45" fill="#FFC000"/>
<rect x="435.10" y="320.52" width="8.30" height="24.18" fill="#43682B"/>
<line x1="290.95" y1="219.62" x2="290.95" y2="252.82" stroke="#555555" stroke-width="0.85" stroke-opacity="1"/>
<line x1="288.85" y1="219.62" x2="293.05" y2="219.62" stroke="#555555" stroke-width="1.0"/>
<line x1="288.85" y1="252.82" x2="293.05" y2="252.82" stroke="#555555" stroke-width="1.0"/>
<line x1="301.45" y1="304.57" x2="301.45" y2="305.97" stroke="#555555" stroke-width="0.85" stroke-opacity="1"/>
<line x1="299.35" y1="304.57" x2="303.55" y2="304.57" stroke="#555555" stroke-width="1.0"/>
<line x1="299.35" y1="305.97" x2="303.55" y2="305.97" stroke="#555555" stroke-width="1.0"/>
<line x1="311.95" y1="288.12" x2="311.95" y2="296.12" stroke="#555555" stroke-width="0.85" stroke-opacity="1"/>
<line x1="309.85" y1="288.12" x2="314.05" y2="288.12" stroke="#555555" stroke-width="1.0"/>
<line x1="309.85" y1="296.12" x2="314.05" y2="296.12" stroke="#555555" stroke-width="1.0"/>
<line x1="322.45" y1="306.60" x2="322.45" y2="313.40" stroke="#555555" stroke-width="0.85" stroke-opacity="1"/>
<line x1="320.35" y1="306.60" x2="324.55" y2="306.60" stroke="#555555" stroke-width="1.0"/>
<line x1="320.35" y1="313.40" x2="324.55" y2="313.40" stroke="#555555" stroke-width="1.0"/>
<line x1="349.35" y1="259.58" x2="349.35" y2="292.78" stroke="#555555" stroke-width="0.85" stroke-opacity="1"/>
<line x1="347.25" y1="259.58" x2="351.45" y2="259.58" stroke="#555555" stroke-width="1.0"/>
<line x1="347.25" y1="292.78" x2="351.45" y2="292.78" stroke="#555555" stroke-width="1.0"/>
<line x1="359.85" y1="304.57" x2="359.85" y2="305.97" stroke="#555555" stroke-width="0.85" stroke-opacity="1"/>
<line x1="357.75" y1="304.57" x2="361.95" y2="304.57" stroke="#555555" stroke-width="1.0"/>
<line x1="357.75" y1="305.97" x2="361.95" y2="305.97" stroke="#555555" stroke-width="1.0"/>
<line x1="370.35" y1="295.13" x2="370.35" y2="303.13" stroke="#555555" stroke-width="0.85" stroke-opacity="1"/>
<line x1="368.25" y1="295.13" x2="372.45" y2="295.13" stroke="#555555" stroke-width="1.0"/>
<line x1="368.25" y1="303.13" x2="372.45" y2="303.13" stroke="#555555" stroke-width="1.0"/>
<line x1="380.85" y1="311.16" x2="380.85" y2="317.96" stroke="#555555" stroke-width="0.85" stroke-opacity="1"/>
<line x1="378.75" y1="311.16" x2="382.95" y2="311.16" stroke="#555555" stroke-width="1.0"/>
<line x1="378.75" y1="317.96" x2="382.95" y2="317.96" stroke="#555555" stroke-width="1.0"/>
<line x1="407.75" y1="275.52" x2="407.75" y2="308.73" stroke="#555555" stroke-width="0.85" stroke-opacity="1"/>
<line x1="405.65" y1="275.52" x2="409.85" y2="275.52" stroke="#555555" stroke-width="1.0"/>
<line x1="405.65" y1="308.73" x2="409.85" y2="308.73" stroke="#555555" stroke-width="1.0"/>
<line x1="418.25" y1="305.44" x2="418.25" y2="306.84" stroke="#555555" stroke-width="0.85" stroke-opacity="1"/>
<line x1="416.15" y1="305.44" x2="420.35" y2="305.44" stroke="#555555" stroke-width="1.0"/>
<line x1="416.15" y1="306.84" x2="420.35" y2="306.84" stroke="#555555" stroke-width="1.0"/>
<line x1="428.75" y1="304.25" x2="428.75" y2="312.25" stroke="#555555" stroke-width="0.85" stroke-opacity="1"/>
<line x1="426.65" y1="304.25" x2="430.85" y2="304.25" stroke="#555555" stroke-width="1.0"/>
<line x1="426.65" y1="312.25" x2="430.85" y2="312.25" stroke="#555555" stroke-width="1.0"/>
<line x1="439.25" y1="317.12" x2="439.25" y2="323.92" stroke="#555555" stroke-width="0.85" stroke-opacity="1"/>
<line x1="437.15" y1="317.12" x2="441.35" y2="317.12" stroke="#555555" stroke-width="1.0"/>
<line x1="437.15" y1="323.92" x2="441.35" y2="323.92" stroke="#555555" stroke-width="1.0"/>
<line x1="277.70" y1="204.50" x2="277.70" y2="345.27" stroke="#1a1a1a" stroke-width="1.15" stroke-opacity="0.88"/>
<line x1="277.12" y1="344.70" x2="452.90" y2="344.70" stroke="#1a1a1a" stroke-width="1.15" stroke-opacity="0.88"/>
<text x="270.50" y="347.15" font-size="7.5" text-anchor="end" fill="#595959" stroke="#595959" stroke-width="0.14" textLength="13.70" lengthAdjust="spacingAndGlyphs">0.00</text>
<text x="270.50" y="329.62" font-size="7.5" text-anchor="end" fill="#595959" stroke="#595959" stroke-width="0.14" textLength="17.70" lengthAdjust="spacingAndGlyphs">10.00</text>
<text x="270.50" y="312.10" font-size="7.5" text-anchor="end" fill="#595959" stroke="#595959" stroke-width="0.14" textLength="17.70" lengthAdjust="spacingAndGlyphs">20.00</text>
<text x="270.50" y="294.57" font-size="7.5" text-anchor="end" fill="#595959" stroke="#595959" stroke-width="0.14" textLength="17.70" lengthAdjust="spacingAndGlyphs">30.00</text>
<text x="270.50" y="277.05" font-size="7.5" text-anchor="end" fill="#595959" stroke="#595959" stroke-width="0.14" textLength="17.70" lengthAdjust="spacingAndGlyphs">40.00</text>
<text x="270.50" y="259.52" font-size="7.5" text-anchor="end" fill="#595959" stroke="#595959" stroke-width="0.14" textLength="17.70" lengthAdjust="spacingAndGlyphs">50.00</text>
<text x="270.50" y="242.00" font-size="7.5" text-anchor="end" fill="#595959" stroke="#595959" stroke-width="0.14" textLength="17.70" lengthAdjust="spacingAndGlyphs">60.00</text>
<text x="270.50" y="224.47" font-size="7.5" text-anchor="end" fill="#595959" stroke="#595959" stroke-width="0.14" textLength="17.70" lengthAdjust="spacingAndGlyphs">70.00</text>
<text x="270.50" y="206.95" font-size="7.5" text-anchor="end" fill="#595959" stroke="#595959" stroke-width="0.14" textLength="17.70" lengthAdjust="spacingAndGlyphs">80.00</text>
<text x="248.00" y="274.70" font-size="7.3" text-anchor="middle" fill="#595959" stroke="#595959" stroke-width="0.05" font-style="italic" textLength="56.60" lengthAdjust="spacingAndGlyphs" transform="rotate(-90 248.00 274.70)">Fe levels (mg/ kg)</text>
<text x="290.50" y="212.60" font-size="7.4" text-anchor="middle" fill="#595959" stroke="#595959" stroke-width="0.14">a</text>
<text x="301.00" y="298.10" font-size="7.4" text-anchor="middle" fill="#595959" stroke="#595959" stroke-width="0.14">b</text>
<text x="312.50" y="283.10" font-size="7.4" text-anchor="middle" fill="#595959" stroke="#595959" stroke-width="0.14">c</text>
<text x="322.50" y="300.10" font-size="7.4" text-anchor="middle" fill="#595959" stroke="#595959" stroke-width="0.14">b</text>
<text x="348.00" y="252.60" font-size="7.4" text-anchor="middle" fill="#595959" stroke="#595959" stroke-width="0.14">a</text>
<text x="359.50" y="298.10" font-size="7.4" text-anchor="middle" fill="#595959" stroke="#595959" stroke-width="0.14">b</text>
<text x="371.00" y="289.10" font-size="7.4" text-anchor="middle" fill="#595959" stroke="#595959" stroke-width="0.14">c</text>
<text x="380.50" y="304.10" font-size="7.4" text-anchor="middle" fill="#595959" stroke="#595959" stroke-width="0.14">b</text>
<text x="407.00" y="266.10" font-size="7.4" text-anchor="middle" fill="#595959" stroke="#595959" stroke-width="0.14">a</text>
<text x="418.00" y="298.10" font-size="7.4" text-anchor="middle" fill="#595959" stroke="#595959" stroke-width="0.14">b</text>
<text x="429.00" y="296.10" font-size="7.4" text-anchor="middle" fill="#595959" stroke="#595959" stroke-width="0.14">b</text>
<text x="438.50" y="309.10" font-size="7.4" text-anchor="middle" fill="#595959" stroke="#595959" stroke-width="0.14">c</text>
<text x="307.50" y="357.60" font-size="7.4" text-anchor="middle" fill="#595959" stroke="#595959" stroke-width="0.14" font-style="italic" textLength="47.50" lengthAdjust="spacingAndGlyphs">Siganus luridus</text>
<text x="364.50" y="357.60" font-size="7.4" text-anchor="middle" fill="#595959" stroke="#595959" stroke-width="0.14" font-style="italic" textLength="29.50" lengthAdjust="spacingAndGlyphs">Lethrinus</text>
<text x="364.50" y="368.30" font-size="7.4" text-anchor="middle" fill="#595959" stroke="#595959" stroke-width="0.14" font-style="italic" textLength="35.00" lengthAdjust="spacingAndGlyphs">borbonicus</text>
<text x="424.40" y="357.60" font-size="7.4" text-anchor="middle" fill="#595959" stroke="#595959" stroke-width="0.14" font-style="italic" textLength="28.50" lengthAdjust="spacingAndGlyphs">Cheilinus</text>
<text x="423.50" y="368.30" font-size="7.4" text-anchor="middle" fill="#595959" stroke="#595959" stroke-width="0.14" font-style="italic" textLength="29.50" lengthAdjust="spacingAndGlyphs">lunulatus</text>
<text x="365.00" y="380.30" font-size="7.4" text-anchor="middle" fill="#404040" stroke="#404040" stroke-width="0.32" textLength="51.00" lengthAdjust="spacingAndGlyphs">Fish treatments</text>
</g>
<g id="zn">
<rect x="513.00" y="238.03" width="8.10" height="110.67" fill="#70AD47"/>
<rect x="523.00" y="324.69" width="8.10" height="24.01" fill="#5B9BD5"/>
<rect x="533.00" y="291.14" width="8.10" height="57.56" fill="#FFC000"/>
<rect x="543.00" y="310.22" width="8.10" height="38.48" fill="#43682B"/>
<rect x="569.00" y="275.69" width="8.10" height="73.01" fill="#70AD47"/>
<rect x="579.00" y="318.28" width="8.10" height="30.42" fill="#5B9BD5"/>
<rect x="589.00" y="323.05" width="8.10" height="25.65" fill="#FFC000"/>
<rect x="599.00" y="331.76" width="8.10" height="16.94" fill="#43682B"/>
<rect x="625.00" y="302.66" width="8.10" height="46.04" fill="#70AD47"/>
<rect x="635.00" y="322.55" width="8.10" height="26.15" fill="#5B9BD5"/>
<rect x="645.00" y="325.02" width="8.10" height="23.68" fill="#FFC000"/>
<rect x="655.00" y="333.08" width="8.10" height="15.62" fill="#43682B"/>
<line x1="516.60" y1="218.93" x2="516.60" y2="257.13" stroke="#555555" stroke-width="0.85" stroke-opacity="1"/>
<line x1="514.50" y1="218.93" x2="518.70" y2="218.93" stroke="#555555" stroke-width="1.0"/>
<line x1="514.50" y1="257.13" x2="518.70" y2="257.13" stroke="#555555" stroke-width="1.0"/>
<line x1="526.60" y1="322.69" x2="526.60" y2="326.69" stroke="#555555" stroke-width="0.85" stroke-opacity="1"/>
<line x1="524.50" y1="322.69" x2="528.70" y2="322.69" stroke="#555555" stroke-width="1.0"/>
<line x1="524.50" y1="326.69" x2="528.70" y2="326.69" stroke="#555555" stroke-width="1.0"/>
<line x1="536.60" y1="280.14" x2="536.60" y2="302.14" stroke="#555555" stroke-width="0.85" stroke-opacity="1"/>
<line x1="534.50" y1="280.14" x2="538.70" y2="280.14" stroke="#555555" stroke-width="1.0"/>
<line x1="534.50" y1="302.14" x2="538.70" y2="302.14" stroke="#555555" stroke-width="1.0"/>
<line x1="546.60" y1="302.92" x2="546.60" y2="317.52" stroke="#555555" stroke-width="0.85" stroke-opacity="1"/>
<line x1="544.50" y1="302.92" x2="548.70" y2="302.92" stroke="#555555" stroke-width="1.0"/>
<line x1="544.50" y1="317.52" x2="548.70" y2="317.52" stroke="#555555" stroke-width="1.0"/>
<line x1="572.60" y1="256.59" x2="572.60" y2="294.79" stroke="#555555" stroke-width="0.85" stroke-opacity="1"/>
<line x1="570.50" y1="256.59" x2="574.70" y2="256.59" stroke="#555555" stroke-width="1.0"/>
<line x1="570.50" y1="294.79" x2="574.70" y2="294.79" stroke="#555555" stroke-width="1.0"/>
<line x1="582.60" y1="316.28" x2="582.60" y2="320.28" stroke="#555555" stroke-width="0.85" stroke-opacity="1"/>
<line x1="580.50" y1="316.28" x2="584.70" y2="316.28" stroke="#555555" stroke-width="1.0"/>
<line x1="580.50" y1="320.28" x2="584.70" y2="320.28" stroke="#555555" stroke-width="1.0"/>
<line x1="592.60" y1="312.05" x2="592.60" y2="334.05" stroke="#555555" stroke-width="0.85" stroke-opacity="1"/>
<line x1="590.50" y1="312.05" x2="594.70" y2="312.05" stroke="#555555" stroke-width="1.0"/>
<line x1="590.50" y1="334.05" x2="594.70" y2="334.05" stroke="#555555" stroke-width="1.0"/>
<line x1="602.60" y1="324.46" x2="602.60" y2="339.06" stroke="#555555" stroke-width="0.85" stroke-opacity="1"/>
<line x1="600.50" y1="324.46" x2="604.70" y2="324.46" stroke="#555555" stroke-width="1.0"/>
<line x1="600.50" y1="339.06" x2="604.70" y2="339.06" stroke="#555555" stroke-width="1.0"/>
<line x1="628.60" y1="283.56" x2="628.60" y2="321.76" stroke="#555555" stroke-width="0.85" stroke-opacity="1"/>
<line x1="626.50" y1="283.56" x2="630.70" y2="283.56" stroke="#555555" stroke-width="1.0"/>
<line x1="626.50" y1="321.76" x2="630.70" y2="321.76" stroke="#555555" stroke-width="1.0"/>
<line x1="638.60" y1="320.55" x2="638.60" y2="324.55" stroke="#555555" stroke-width="0.85" stroke-opacity="1"/>
<line x1="636.50" y1="320.55" x2="640.70" y2="320.55" stroke="#555555" stroke-width="1.0"/>
<line x1="636.50" y1="324.55" x2="640.70" y2="324.55" stroke="#555555" stroke-width="1.0"/>
<line x1="648.60" y1="314.02" x2="648.60" y2="336.02" stroke="#555555" stroke-width="0.85" stroke-opacity="1"/>
<line x1="646.50" y1="314.02" x2="650.70" y2="314.02" stroke="#555555" stroke-width="1.0"/>
<line x1="646.50" y1="336.02" x2="650.70" y2="336.02" stroke="#555555" stroke-width="1.0"/>
<line x1="658.60" y1="325.78" x2="658.60" y2="340.38" stroke="#555555" stroke-width="0.85" stroke-opacity="1"/>
<line x1="656.50" y1="325.78" x2="660.70" y2="325.78" stroke="#555555" stroke-width="1.0"/>
<line x1="656.50" y1="340.38" x2="660.70" y2="340.38" stroke="#555555" stroke-width="1.0"/>
<line x1="504.00" y1="200.70" x2="504.00" y2="349.50" stroke="#808080" stroke-width="1.6" stroke-opacity="0.88"/>
<line x1="503.20" y1="348.70" x2="672.00" y2="348.70" stroke="#1a1a1a" stroke-width="1.15" stroke-opacity="0.88"/>
<text x="496.40" y="351.15" font-size="7.5" text-anchor="end" fill="#595959" stroke="#595959" stroke-width="0.14" textLength="13.70" lengthAdjust="spacingAndGlyphs">0.00</text>
<text x="496.40" y="334.71" font-size="7.5" text-anchor="end" fill="#595959" stroke="#595959" stroke-width="0.14" textLength="17.60" lengthAdjust="spacingAndGlyphs">10.00</text>
<text x="496.40" y="318.26" font-size="7.5" text-anchor="end" fill="#595959" stroke="#595959" stroke-width="0.14" textLength="17.60" lengthAdjust="spacingAndGlyphs">20.00</text>
<text x="496.40" y="301.82" font-size="7.5" text-anchor="end" fill="#595959" stroke="#595959" stroke-width="0.14" textLength="17.60" lengthAdjust="spacingAndGlyphs">30.00</text>
<text x="496.40" y="285.37" font-size="7.5" text-anchor="end" fill="#595959" stroke="#595959" stroke-width="0.14" textLength="17.60" lengthAdjust="spacingAndGlyphs">40.00</text>
<text x="496.40" y="268.93" font-size="7.5" text-anchor="end" fill="#595959" stroke="#595959" stroke-width="0.14" textLength="17.60" lengthAdjust="spacingAndGlyphs">50.00</text>
<text x="496.40" y="252.48" font-size="7.5" text-anchor="end" fill="#595959" stroke="#595959" stroke-width="0.14" textLength="17.60" lengthAdjust="spacingAndGlyphs">60.00</text>
<text x="496.40" y="236.04" font-size="7.5" text-anchor="end" fill="#595959" stroke="#595959" stroke-width="0.14" textLength="17.60" lengthAdjust="spacingAndGlyphs">70.00</text>
<text x="496.40" y="219.59" font-size="7.5" text-anchor="end" fill="#595959" stroke="#595959" stroke-width="0.14" textLength="17.60" lengthAdjust="spacingAndGlyphs">80.00</text>
<text x="496.40" y="203.15" font-size="7.5" text-anchor="end" fill="#595959" stroke="#595959" stroke-width="0.14" textLength="17.60" lengthAdjust="spacingAndGlyphs">90.00</text>
<text x="474.50" y="274.50" font-size="7.3" text-anchor="middle" fill="#595959" stroke="#595959" stroke-width="0.05" font-style="italic" textLength="56.50" lengthAdjust="spacingAndGlyphs" transform="rotate(-90 474.50 274.50)">Zn levels (mg/ kg)</text>
<text x="516.50" y="211.60" font-size="7.4" text-anchor="middle" fill="#595959" stroke="#595959" stroke-width="0.14">a</text>
<text x="527.00" y="314.60" font-size="7.4" text-anchor="middle" fill="#595959" stroke="#595959" stroke-width="0.14">d</text>
<text x="537.00" y="272.60" font-size="7.4" text-anchor="middle" fill="#595959" stroke="#595959" stroke-width="0.14">b</text>
<text x="547.00" y="296.10" font-size="7.4" text-anchor="middle" fill="#595959" stroke="#595959" stroke-width="0.14">c</text>
<text x="571.50" y="247.10" font-size="7.4" text-anchor="middle" fill="#595959" stroke="#595959" stroke-width="0.14">a</text>
<text x="583.00" y="308.60" font-size="7.4" text-anchor="middle" fill="#595959" stroke="#595959" stroke-width="0.14">b</text>
<text x="594.00" y="305.10" font-size="7.4" text-anchor="middle" fill="#595959" stroke="#595959" stroke-width="0.14">b</text>
<text x="603.50" y="317.10" font-size="7.4" text-anchor="middle" fill="#595959" stroke="#595959" stroke-width="0.14">c</text>
<text x="628.50" y="276.90" font-size="7.4" text-anchor="middle" fill="#595959" stroke="#595959" stroke-width="0.14">a</text>
<text x="639.50" y="313.60" font-size="7.4" text-anchor="middle" fill="#595959" stroke="#595959" stroke-width="0.14">b</text>
<text x="649.50" y="308.60" font-size="7.4" text-anchor="middle" fill="#595959" stroke="#595959" stroke-width="0.14">b</text>
<text x="658.50" y="317.10" font-size="7.4" text-anchor="middle" fill="#595959" stroke="#595959" stroke-width="0.14">c</text>
<text x="533.00" y="361.10" font-size="7.4" text-anchor="middle" fill="#595959" stroke="#595959" stroke-width="0.14" font-style="italic" textLength="47.50" lengthAdjust="spacingAndGlyphs">Siganus luridus</text>
<text x="587.20" y="361.10" font-size="7.4" text-anchor="middle" fill="#595959" stroke="#595959" stroke-width="0.14" font-style="italic" textLength="29.50" lengthAdjust="spacingAndGlyphs">Lethrinus</text>
<text x="587.20" y="370.80" font-size="7.4" text-anchor="middle" fill="#595959" stroke="#595959" stroke-width="0.14" font-style="italic" textLength="35.00" lengthAdjust="spacingAndGlyphs">borbonicus</text>
<text x="644.60" y="361.10" font-size="7.4" text-anchor="middle" fill="#595959" stroke="#595959" stroke-width="0.14" font-style="italic" textLength="28.50" lengthAdjust="spacingAndGlyphs">Cheilinus</text>
<text x="644.00" y="370.80" font-size="7.4" text-anchor="middle" fill="#595959" stroke="#595959" stroke-width="0.14" font-style="italic" textLength="29.50" lengthAdjust="spacingAndGlyphs">lunulatus</text>
<text x="588.00" y="383.40" font-size="7.4" text-anchor="middle" fill="#404040" stroke="#404040" stroke-width="0.32" textLength="51.00" lengthAdjust="spacingAndGlyphs">Fish treatments</text>
</g>
</svg>
</body></html>
